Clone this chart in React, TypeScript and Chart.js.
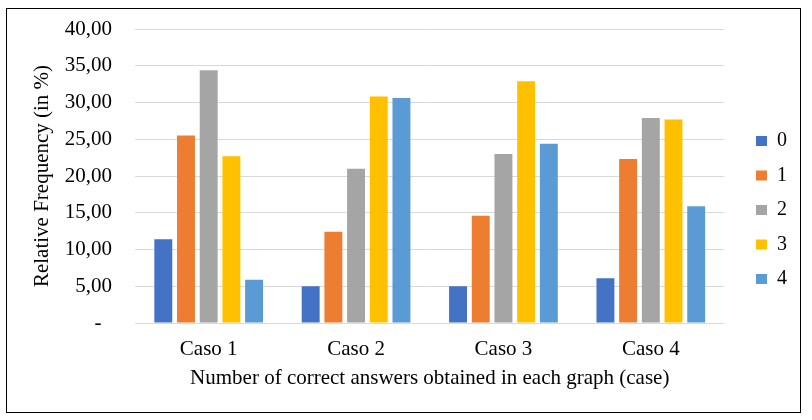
import { useEffect, useRef } from "react";
import { Chart, registerables } from "chart.js";

Chart.register(...registerables);

const cases = ["Caso 1", "Caso 2", "Caso 3", "Caso 4"];
const answers0 = [11.4, 5.0, 5.0, 6.1];
const answers1 = [25.5, 12.4, 14.6, 22.3];
const answers2 = [34.4, 21.0, 23.0, 27.9];
const answers3 = [22.7, 30.8, 32.9, 27.7];
const answers4 = [5.9, 30.6, 24.4, 15.9];
const seriesNames = ["0", "1", "2", "3", "4"];
const seriesColors = ["#4472C4", "#ED7D31", "#A5A5A5", "#FFC000", "#5B9BD5"];

const FONT = "'Liberation Serif', 'Times New Roman', serif";

export default function App() {
  const chartRef = useRef<HTMLCanvasElement>(null);
  const chartInstance = useRef<Chart | null>(null);

  useEffect(() => {
    if (!chartRef.current) return;
    if (chartInstance.current) chartInstance.current.destroy();
    const ctx = chartRef.current.getContext("2d");
    if (!ctx) return;

    const values = [answers0, answers1, answers2, answers3, answers4];

    chartInstance.current = new Chart(ctx, {
      type: "bar",
      data: {
        labels: cases,
        datasets: values.map((v, i) => ({
          label: seriesNames[i],
          data: v,
          backgroundColor: seriesColors[i],
          borderWidth: 0,
          categoryPercentage: 0.77,
          barPercentage: 0.79,
        })),
      },
      options: {
        animation: false,
        responsive: true,
        maintainAspectRatio: false,
        layout: { padding: { top: 20, bottom: 21, left: 0, right: 3 } },
        plugins: {
          legend: {
            position: "right",
            labels: {
              boxWidth: 11,
              boxHeight: 10,
              padding: 14.5,
              color: "#000",
              font: { family: FONT, size: 20 },
            },
          },
          tooltip: { enabled: false },
        },
        scales: {
          x: {
            grid: { display: false, drawTicks: false },
            border: { display: false },
            ticks: { color: "#000", padding: 14, font: { family: FONT, size: 21 } },
            title: {
              display: true,
              text: "Number of correct answers obtained in each graph (case)",
              color: "#000",
              padding: 0,
              font: { family: FONT, size: 21 },
            },
            afterFit: (scale) => {
              scale.height = 68;
            },
          },
          y: {
            min: 0,
            max: 40,
            grid: { color: "#D9D9D9", drawTicks: false, lineWidth: 1 },
            border: { display: false },
            ticks: {
              stepSize: 5,
              padding: 23,
              color: "#000",
              font: { family: FONT, size: 21 },
              callback: (v) => (Number(v) === 0 ? "-  " : Number(v).toFixed(2).replace(".", ",")),
            },
            title: {
              display: true,
              text: "Relative Frequency (in %)",
              color: "#000",
              padding: { top: 23, bottom: 0 },
              font: { family: FONT, size: 21 },
            },
            afterFit: (scale) => {
              scale.width = 128;
              scale.paddingTop = 0;
              scale.paddingBottom = 0;
            },
          },
          // empty spacer between the plot and the legend
          gap: {
            type: "linear",
            position: "right",
            display: true,
            grid: { display: false, drawTicks: false },
            border: { display: false },
            ticks: { display: false },
            afterFit: (scale) => {
              scale.width = 17;
              scale.paddingTop = 0;
              scale.paddingBottom = 0;
            },
          },
        },
      },
    });

    return () => {
      if (chartInstance.current) {
        chartInstance.current.destroy();
        chartInstance.current = null;
      }
    };
  }, []);

  return (
    <div
      style={{
        position: "absolute",
        left: 6,
        top: 8,
        width: 795,
        height: 405,
        border: "1px solid #000",
        boxSizing: "border-box",
        background: "#fff",
      }}
    >
      <div style={{ position: "relative", width: 793, height: 403 }}>
        <canvas ref={chartRef} />
      </div>
    </div>
  );
}
